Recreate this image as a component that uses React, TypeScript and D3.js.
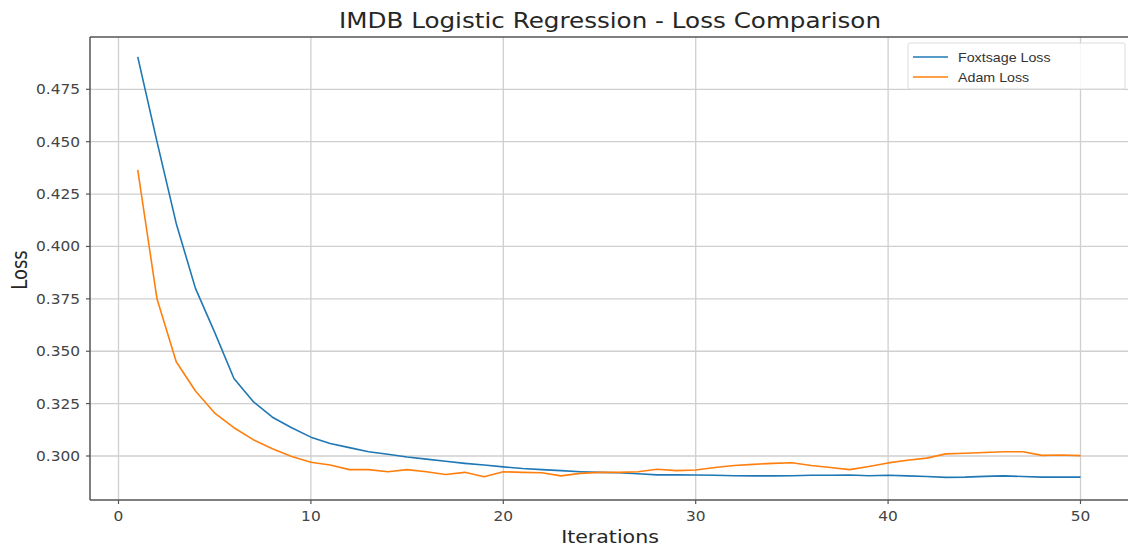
import React from "react";
import * as d3 from "d3";

const iterations: number[] = Array.from({ length: 50 }, (_, i) => i + 1);

const foxtsageLoss: number[] = [
  0.4905, 0.450, 0.411, 0.380, 0.359, 0.337, 0.326, 0.3185, 0.3135, 0.309,
  0.306, 0.304, 0.302, 0.3008, 0.2995, 0.2985, 0.2975, 0.2965, 0.2957, 0.2948,
  0.294, 0.2935, 0.293, 0.2925, 0.2922, 0.292, 0.2915, 0.291, 0.291, 0.2909,
  0.2908, 0.2906, 0.2905, 0.2905, 0.2906, 0.2908, 0.2908, 0.2909, 0.2906, 0.2908,
  0.2905, 0.2902, 0.2898, 0.2899, 0.2903, 0.2905, 0.2902, 0.2899, 0.2899, 0.2899,
];

const adamLoss: number[] = [
  0.4365, 0.375, 0.345, 0.331, 0.3205, 0.3135, 0.3078, 0.3035, 0.2998, 0.297,
  0.2957, 0.2935, 0.2935, 0.2925, 0.2935, 0.2925, 0.2912, 0.2922, 0.2901, 0.2925,
  0.2922, 0.292, 0.2905, 0.2917, 0.2922, 0.2922, 0.2925, 0.2937, 0.293, 0.2933,
  0.2945, 0.2955, 0.296, 0.2965, 0.2968, 0.2955, 0.2945, 0.2935, 0.295, 0.2967,
  0.298, 0.299, 0.301, 0.3013, 0.3017, 0.302, 0.302, 0.3003, 0.3005, 0.3002,
];

const xTicks: number[] = [0, 10, 20, 30, 40, 50];
const yTicks: number[] = [0.3, 0.325, 0.35, 0.375, 0.4, 0.425, 0.45, 0.475];
const seriesNames: string[] = ["Foxtsage Loss", "Adam Loss"];
const seriesColors: string[] = ["#1f77b4", "#ff7f0e"];

const W = 1128;
const H = 552;
const SX = 1.14;
const LEFT = 90;
const TOP = 37;
const BOTTOM = 500;
const RIGHT = 1130;
const FONT = "'DejaVu Sans', sans-serif";

function SText(props: {
  x: number;
  y: number;
  size: number;
  anchor?: string;
  fill?: string;
  family?: string;
  rotate?: number;
  children: React.ReactNode;
}) {
  const { x, y, size, anchor = "start", fill = "#262626", family = FONT, rotate = 0 } = props;
  const t = rotate
    ? `translate(${x},${y}) scale(${SX},1) rotate(${rotate})`
    : `translate(${x},${y}) scale(${SX},1)`;
  return (
    <text transform={t} fontSize={size} fontFamily={family} textAnchor={anchor as any} fill={fill}>
      {props.children}
    </text>
  );
}

export default function App() {
  const x = d3.scaleLinear().domain([0, 50]).range([118.5, 1080.5]);
  const y = d3.scaleLinear().domain([0.3, 0.475]).range([456, 89.3]);

  const line = d3
    .line<number>()
    .x((_, i) => x(iterations[i]))
    .y((d) => y(d));

  const series = [foxtsageLoss, adamLoss];

  return (
    <svg
      width={W}
      height={H}
      style={{ position: "absolute", left: 0, top: 0, background: "#fff" }}
    >
      <rect x={0} y={0} width={W} height={H} fill="#fff" />
      {/* grid */}
      {xTicks.map((t) => (
        <line key={"gx" + t} x1={x(t)} x2={x(t)} y1={TOP} y2={BOTTOM} stroke="#cfcfcf" strokeWidth={1.3} />
      ))}
      {yTicks.map((t) => (
        <line key={"gy" + t} x1={LEFT} x2={RIGHT} y1={y(t)} y2={y(t)} stroke="#cfcfcf" strokeWidth={1.3} />
      ))}
      {/* lines */}
      {series.map((s, i) => (
        <path key={"s" + i} d={line(s) || ""} fill="none" stroke={seriesColors[i]} strokeWidth={1.6} strokeLinejoin="round" />
      ))}
      {/* spines */}
      <line x1={LEFT} x2={RIGHT} y1={TOP} y2={TOP} stroke="#555" strokeWidth={1.5} />
      <line x1={LEFT} x2={RIGHT} y1={BOTTOM} y2={BOTTOM} stroke="#555" strokeWidth={1.5} />
      <line x1={LEFT} x2={LEFT} y1={TOP} y2={BOTTOM} stroke="#555" strokeWidth={1.5} />
      {/* ticks */}
      {xTicks.map((t) => (
        <g key={"xt" + t}>
          <line x1={x(t)} x2={x(t)} y1={BOTTOM} y2={BOTTOM + 4} stroke="#555" strokeWidth={1.2} />
          <SText x={x(t)} y={521} size={13.5} anchor="middle" fill="#444">
            {String(t)}
          </SText>
        </g>
      ))}
      {yTicks.map((t) => (
        <g key={"yt" + t}>
          <line x1={LEFT - 4} x2={LEFT} y1={y(t)} y2={y(t)} stroke="#555" strokeWidth={1.2} />
          <SText x={80} y={y(t) + 5} size={13.5} anchor="end" fill="#444">
            {d3.format(".3f")(t)}
          </SText>
        </g>
      ))}
      {/* title & labels */}
      <SText x={610} y={28} size={21.6} anchor="middle">
        IMDB Logistic Regression - Loss Comparison
      </SText>
      <SText x={610} y={543} size={18} anchor="middle">
        Iterations
      </SText>
      <SText x={27} y={270} size={18} anchor="middle" rotate={-90}>
        Loss
      </SText>
      {/* legend */}
      <rect x={908} y={43} width={217} height={46} rx={2} fill="#fff" fillOpacity={0.85} stroke="#dcdcdc" strokeWidth={1} />
      {seriesNames.map((n, i) => (
        <g key={"lg" + i}>
          <line x1={913} x2={948} y1={57 + i * 20} y2={57 + i * 20} stroke={seriesColors[i]} strokeWidth={1.6} />
          <SText x={958} y={61.5 + i * 20} size={12.5} family="'Liberation Sans', Arial, sans-serif" fill="#333">
            {n}
          </SText>
        </g>
      ))}
    </svg>
  );
}
